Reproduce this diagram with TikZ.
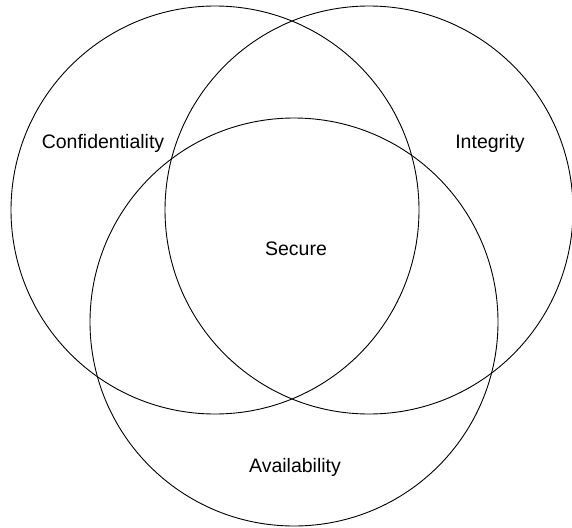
\documentclass[tikz,border=0pt]{standalone}
\usepackage{fontspec}
\setmainfont{Liberation Sans}
\begin{document}
\begin{tikzpicture}[x=1pt,y=-1pt,
  ring/.style={draw=black,line width=0.9pt},
  lbl/.style={font=\fontsize{19.5}{22}\selectfont,inner sep=0pt}]
\useasboundingbox (0,0) rectangle (572,527);
\node[ring,circle,minimum size=408pt,inner sep=0pt] (conf) at (215,210) {};
\node[ring,circle,minimum size=408pt,inner sep=0pt] (integ) at (369,210) {};
\node[ring,circle,minimum size=408pt,inner sep=0pt] (avail) at (294,322) {};
\node[lbl] (tconf) at (103,143) {Confidentiality};
\node[lbl] (tinteg) at (490,143) {Integrity};
\node[lbl] (tsec) at (296,249) {Secure};
\node[lbl] (tavail) at (295,467) {Availability};
\end{tikzpicture}
\end{document}
